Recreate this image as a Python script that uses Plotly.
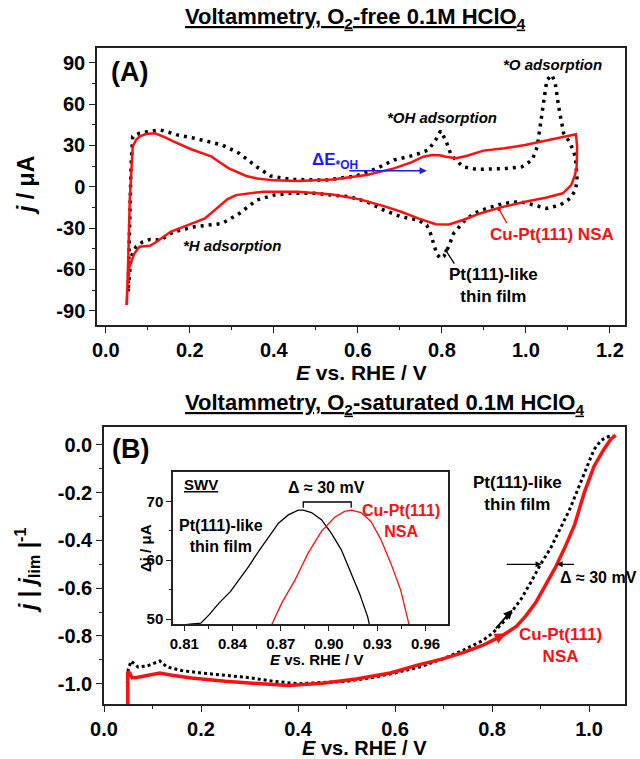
import plotly.graph_objects as go

# ---------------- Panel A: CV in O2-free 0.1M HClO4 ----------------
a_red_E = [0.050, 0.052, 0.054, 0.057, 0.060, 0.064, 0.072, 0.080, 0.095, 0.117, 0.140, 0.162, 0.203, 0.235,
           0.252, 0.270, 0.293, 0.334, 0.360, 0.400, 0.457, 0.539, 0.621, 0.686, 0.727, 0.756, 0.777, 0.795,
           0.809, 0.834, 0.858, 0.899, 0.949, 0.998, 1.055, 1.119, 1.122, 1.121, 1.117, 1.108, 1.088, 1.047,
           0.998, 0.940, 0.891, 0.850, 0.817, 0.785, 0.744, 0.703, 0.662, 0.605, 0.539, 0.457, 0.375, 0.310,
           0.290, 0.269, 0.236, 0.195, 0.154, 0.121, 0.105, 0.080, 0.068, 0.056, 0.052, 0.049]
a_red_j = [-86.0, -70.0, -46.0, -9.7, 12.0, 29.1, 34.0, 36.4, 38.2, 38.8, 36.0, 32.7, 27.2, 23.5,
           21.8, 18.0, 13.3, 7.8, 6.0, 4.6, 4.1, 5.3, 8.5, 13.3, 17.7, 21.8, 23.0, 22.8,
           21.8, 20.6, 22.3, 26.2, 27.9, 30.3, 33.9, 38.1, 29.1, 14.5, 8.5, 1.2, -4.8, -8.0,
           -10.9, -15.0, -19.4, -24.2, -27.4, -27.2, -23.0, -18.2, -14.1, -9.2, -5.6, -3.6, -3.6, -6.1,
           -9.0, -14.5, -23.0, -27.9, -32.7, -40.0, -42.9, -43.6, -48.5, -58.2, -70.0, -86.0]

a_blk_E = [0.053, 0.056, 0.060, 0.064, 0.080, 0.100, 0.129, 0.150, 0.170, 0.211, 0.277, 0.318, 0.359, 0.392,
           0.441, 0.523, 0.596, 0.645, 0.686, 0.736, 0.768, 0.785, 0.797, 0.809, 0.822, 0.850, 0.883, 0.949,
           0.991, 1.015, 1.027, 1.035, 1.043, 1.050, 1.062, 1.070, 1.078, 1.090, 1.106, 1.118, 1.122, 1.118,
           1.106, 1.082, 1.050, 1.019, 0.987, 0.947, 0.907, 0.876, 0.852, 0.828, 0.816, 0.805, 0.797, 0.788,
           0.780, 0.772, 0.764, 0.744, 0.703, 0.662, 0.621, 0.580, 0.498, 0.441, 0.400, 0.359, 0.318, 0.277,
           0.211, 0.162, 0.129, 0.105, 0.088, 0.072, 0.060, 0.053]
a_blk_j = [-76.0, -34.0, 14.5, 36.4, 38.8, 40.0, 41.2, 39.5, 37.6, 35.2, 30.3, 24.2, 14.5, 7.8,
           5.3, 4.8, 7.8, 13.3, 19.4, 23.0, 26.7, 33.9, 40.5, 33.9, 23.0, 14.5, 12.6, 13.1,
           14.5, 19.4, 29.0, 46.0, 65.4, 77.5, 81.1, 75.1, 58.1, 38.8, 31.5, 21.8, 4.9, -2.4,
           -8.4, -13.3, -15.7, -13.3, -10.9, -12.1, -15.7, -19.4, -25.4, -33.9, -43.6, -50.5, -52.1, -49.0,
           -41.0, -33.0, -27.9, -24.2, -21.8, -17.0, -10.9, -7.3, -4.8, -4.8, -6.1, -9.7, -19.4, -26.7,
           -29.1, -32.7, -38.8, -38.3, -40.0, -43.6, -50.9, -76.0]

# ---------------- Panel B: LSV in O2-saturated 0.1M HClO4 ----------------
b_red_E = [0.049, 0.049, 0.053, 0.058, 0.065, 0.090, 0.115, 0.140, 0.180, 0.250, 0.320, 0.380, 0.450, 0.520,
           0.590, 0.650, 0.700, 0.740, 0.780, 0.820, 0.850, 0.870, 0.890, 0.910, 0.930, 0.950, 0.970, 0.990,
           1.010, 1.030, 1.045, 1.055]
b_red_j = [-1.085, -0.950, -0.955, -0.975, -0.975, -0.965, -0.955, -0.965, -0.976, -0.990, -0.998, -1.008,
           -0.998, -0.980, -0.955, -0.920, -0.895, -0.870, -0.840, -0.800, -0.760, -0.715, -0.660, -0.590,
           -0.515, -0.430, -0.335, -0.200, -0.090, -0.020, 0.025, 0.040]

b_blk_E = [0.048, 0.050, 0.056, 0.070, 0.090, 0.115, 0.130, 0.160, 0.200, 0.250, 0.300, 0.350, 0.400, 0.450,
           0.500, 0.550, 0.600, 0.650, 0.700, 0.740, 0.780, 0.800, 0.820, 0.840, 0.860, 0.880, 0.900, 0.920,
           0.940, 0.960, 0.980, 1.000, 1.010, 1.025, 1.040, 1.050]
b_blk_j = [-1.000, -0.940, -0.905, -0.930, -0.925, -0.905, -0.930, -0.945, -0.955, -0.965, -0.975, -0.990,
           -1.000, -0.995, -0.990, -0.975, -0.955, -0.930, -0.895, -0.860, -0.820, -0.790, -0.750, -0.700,
           -0.645, -0.575, -0.500, -0.435, -0.355, -0.270, -0.170, -0.070, -0.020, 0.020, 0.035, 0.038]

# ---------------- Inset: SWV ----------------
swv_blk_E = [0.8120, 0.8170, 0.8203, 0.8254, 0.8316, 0.8388, 0.8439, 0.8500, 0.8562, 0.8624, 0.8686, 0.8747,
             0.8809, 0.8840, 0.8891, 0.8953, 0.9014, 0.9076, 0.9138, 0.9189, 0.9240, 0.9251]
swv_blk_j = [49.1, 49.2, 49.3, 50.7, 52.7, 54.7, 56.6, 58.9, 61.5, 64.0, 66.3, 67.7,
             68.5, 68.5, 68.1, 66.9, 64.6, 61.8, 57.8, 54.4, 50.4, 49.1]
swv_red_E = [0.8645, 0.8706, 0.8788, 0.8870, 0.8953, 0.9035, 0.9097, 0.9138, 0.9199, 0.9261, 0.9323, 0.9384,
             0.9446, 0.9497]
swv_red_j = [49.1, 52.7, 56.6, 61.2, 64.9, 67.3, 68.3, 68.5, 68.1, 66.6, 63.5, 59.5, 54.9, 49.1]

# tick labels
a_xticks = [0.0, 0.2, 0.4, 0.6, 0.8, 1.0, 1.2]
a_yticks = [-90, -60, -30, 0, 30, 60, 90]
b_xticks = [0.0, 0.2, 0.4, 0.6, 0.8, 1.0]
b_yticks = [-1.0, -0.8, -0.6, -0.4, -0.2, 0.0]
in_xticks = [0.81, 0.84, 0.87, 0.90, 0.93, 0.96]
in_yticks = [50, 60, 70]

W, H = 640, 759
FONT = "Liberation Sans, Arial, sans-serif"
RED = "#ff1010"
BLUE = "#1a1aff"


def px(x):
    return x / W


def py(y):
    return 1 - y / H


fig = go.Figure()
fig.add_trace(go.Scatter(x=a_blk_E, y=a_blk_j, mode="lines", xaxis="x", yaxis="y",
                         line=dict(color="black", width=3.5, dash="3px,5px"), showlegend=False))
fig.add_trace(go.Scatter(x=a_red_E, y=a_red_j, mode="lines", xaxis="x", yaxis="y",
                         line=dict(color=RED, width=2.5), showlegend=False))
fig.add_trace(go.Scatter(x=b_blk_E, y=b_blk_j, mode="lines", xaxis="x2", yaxis="y2",
                         line=dict(color="black", width=3, dash="3px,3px"), showlegend=False))
fig.add_trace(go.Scatter(x=b_red_E, y=b_red_j, mode="lines", xaxis="x2", yaxis="y2",
                         line=dict(color=RED, width=3.5), showlegend=False))
fig.add_trace(go.Scatter(x=swv_blk_E, y=swv_blk_j, mode="lines", xaxis="x3", yaxis="y3",
                         line=dict(color="black", width=1.3), showlegend=False))
fig.add_trace(go.Scatter(x=swv_red_E, y=swv_red_j, mode="lines", xaxis="x3", yaxis="y3",
                         line=dict(color=RED, width=1.3), showlegend=False))

tickfont = dict(family=FONT, size=20, color="black", weight="bold")
small_tickfont = dict(family=FONT, size=15, color="black", weight="bold")


def axis(domain, rng, tickvals, ticktext, minor_vals, anchor, font=tickfont, ticklen=6):
    return dict(domain=domain, range=rng, anchor=anchor, tickvals=tickvals, ticktext=ticktext,
                automargin=False,
                ticks="outside", ticklen=ticklen, tickwidth=1.3, tickcolor="#222",
                minor=dict(tickvals=minor_vals, ticks="outside", ticklen=ticklen * 0.55,
                           tickwidth=1.2, tickcolor="#222"),
                showline=True, mirror=True, linecolor="#222", linewidth=1.5,
                showgrid=False, zeroline=False, tickfont=font)


fig.update_layout(
    width=W, height=H, margin=dict(l=0, r=0, t=0, b=0, autoexpand=False),
    paper_bgcolor="white", plot_bgcolor="white", font=dict(family=FONT, color="black"),
    xaxis=axis([px(97), px(625)], [-0.021, 1.236], a_xticks, [f"{v:.1f}" for v in a_xticks],
               [0.1, 0.3, 0.5, 0.7, 0.9, 1.1], "y"),
    yaxis=axis([py(325), py(48)], [-100.4, 100.7], a_yticks, [str(v) for v in a_yticks],
               [-75, -45, -15, 15, 45, 75], "x"),
    xaxis2=axis([px(104), px(625)], [0.0, 1.074], b_xticks, [f"{v:.1f}" for v in b_xticks],
                [0.1, 0.3, 0.5, 0.7, 0.9], "y2"),
    yaxis2=axis([py(704), py(427)], [-1.085, 0.075], b_yticks, [f"{v:.1f}" for v in b_yticks],
                [-0.9, -0.7, -0.5, -0.3, -0.1], "x2"),
    xaxis3=axis([px(173), px(448)], [0.803, 0.974], in_xticks, [f"{v:.2f}" for v in in_xticks],
                [0.825, 0.855, 0.885, 0.915, 0.945], "y3", small_tickfont, 5),
    yaxis3=axis([py(624), py(472)], [49.15, 75.0], in_yticks, [str(v) for v in in_yticks],
                [55, 65], "x3", small_tickfont, 5),
)

ann = []


def paper_text(text, x, y, size, color="black", angle=0):
    ann.append(dict(text=text, x=px(x), y=py(y), xref="paper", yref="paper", showarrow=False,
                    xanchor="center", yanchor="middle", textangle=angle, borderpad=0,
                    font=dict(family=FONT, size=size, color=color)))


def data_text(text, x, y, xr, yr, size, color="black", align="center"):
    ann.append(dict(text=text, x=x, y=y, xref=xr, yref=yr, showarrow=False, align=align,
                    xanchor="center", yanchor="middle", font=dict(family=FONT, size=size, color=color)))


def arrow(x, y, ax, ay, xr, yr, color, head, width=1.3, size=1.0):
    ann.append(dict(text="", x=x, y=y, ax=ax, ay=ay, xref=xr, yref=yr, axref=xr, ayref=yr,
                    showarrow=True, arrowhead=head, arrowcolor=color, arrowwidth=width, arrowsize=size))


# titles
paper_text("<b><u>Voltammetry, O<sub>2</sub>-free 0.1M HClO<sub>4</sub></u></b>", 355, 18, 22)
paper_text("<b><u>Voltammetry, O<sub>2</sub>-saturated 0.1M HClO<sub>4</sub></u></b>", 384, 404, 22)
# axis titles
paper_text("<b><i>j</i> / μA</b>", 26, 186, 23, angle=-90)
paper_text("<b><i>E</i> vs. RHE / V</b>", 361, 372, 21)
paper_text("<b><i>j</i> | <i>j</i><sub>lim</sub> |<sup>-1</sup></b>", 27, 571, 23, angle=-90)
paper_text("<b><i>E</i> vs. RHE / V</b>", 364, 748, 20)
paper_text("<b>Δj / μA</b>", 145, 548, 15, angle=-90)
paper_text("<b><i>E</i> vs. RHE / V</b>", 316, 659, 15)
# panel letters
paper_text("<b>(A)</b>", 129, 72, 27)
paper_text("<b>(B)</b>", 130, 449, 27)

# panel A annotations
data_text("<b><i>*O adsorption</i></b>", 1.064, 89, "x", "y", 15)
data_text("<b><i>*OH adsorption</i></b>", 0.80, 50.5, "x", "y", 15)
data_text("<b><i>*H adsorption</i></b>", 0.30, -43, "x", "y", 15)
data_text("<b>ΔE<sub>*OH</sub></b>", 0.545, 19, "x", "y", 17, BLUE)
arrow(0.764, 11.6, 0.576, 11.6, "x", "y", BLUE, 2, 1.6, 0.9)
data_text("<b>Cu-Pt(111) NSA</b>", 1.063, -34.5, "x", "y", 17, RED)
arrow(0.936, -16.5, 0.957, -27.5, "x", "y", RED, 6, 1.3, 0.7)
data_text("<b>Pt(111)-like<br>thin film</b>", 0.924, -72, "x", "y", 17)
arrow(0.810, -46.5, 0.832, -57, "x", "y", "black", 6, 1.3, 0.7)

# panel B annotations
data_text("<b>Pt(111)-like<br>thin film</b>", 0.852, -0.205, "x2", "y2", 17)
data_text("<b>Cu-Pt(111)<br>NSA</b>", 0.942, -0.84, "x2", "y2", 17, RED)
data_text("<b>Δ ≈ 30 mV</b>", 1.02, -0.555, "x2", "y2", 16)
arrow(0.902, -0.5, 0.827, -0.5, "x2", "y2", "black", 2, 1.2, 1.0)
arrow(0.933, -0.5, 0.972, -0.5, "x2", "y2", "black", 2, 1.2, 1.0)
arrow(0.842, -0.69, 0.805, -0.775, "x2", "y2", "black", 2, 1.8, 1.0)
arrow(0.828, -0.79, 0.785, -0.835, "x2", "y2", RED, 2, 2.2, 1.0)

# inset annotations
data_text("<b><u>SWV</u></b>", 0.8207, 72.8, "x3", "y3", 15)
data_text("<b>Δ ≈ 30 mV</b>", 0.8985, 72.3, "x3", "y3", 16)
data_text("<b>Pt(111)-like<br>thin film</b>", 0.833, 64.2, "x3", "y3", 16)
data_text("<b>Cu-Pt(111)<br>NSA</b>", 0.945, 66.7, "x3", "y3", 16, RED)

fig.update_layout(annotations=ann)

# bracket above SWV peaks
fig.add_shape(type="path", xref="x3", yref="y3",
              path=f"M {swv_blk_E[13]},68.9 L {swv_blk_E[13]},69.9 L {swv_red_E[7]},69.9 L {swv_red_E[7]},68.9",
              line=dict(color="black", width=1.3))

fig.write_html("out.html")
